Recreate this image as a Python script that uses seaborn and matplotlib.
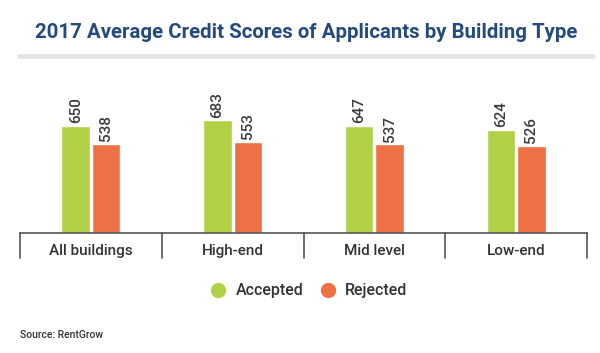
import pandas as pd
import matplotlib.pyplot as plt
import seaborn as sns
from matplotlib.lines import Line2D

# Datos
categorias = ['All buildings', 'High-end', 'Mid level', 'Low-end']
aceptados = [650, 683, 647, 624]
rechazados = [538, 553, 537, 526]
series = ['Accepted', 'Rejected']
colores = {'Accepted': '#b0d146', 'Rejected': '#ee7145'}

df = pd.DataFrame({
    'Tipo': categorias * 2,
    'Estado': ['Accepted'] * 4 + ['Rejected'] * 4,
    'Score': aceptados + rechazados,
})

sns.set_style('white')
plt.rcParams['font.family'] = ['Roboto', 'DejaVu Sans']

fig = plt.figure(figsize=(6, 3.53), dpi=100)
ax = fig.add_axes([20 / 600, 1 - 233 / 353, 567 / 600, 165 / 353])

sns.barplot(data=df, x='Tipo', y='Score', hue='Estado', palette=colores,
            width=0.43, gap=0.06, ax=ax, legend=False, saturation=1)

for cont in ax.containers:
    ax.bar_label(cont, rotation=90, padding=2, fontsize=11, fontweight='medium',
                 color='#3a3a3a')

ax.set_ylim(0, 1000)
ax.set_xlim(-0.5, len(categorias) - 0.5)
ax.set_xlabel('')
ax.set_ylabel('')
ax.set_yticks([])
ax.tick_params(axis='x', length=0, pad=8)
for lbl in ax.get_xticklabels():
    lbl.set_fontsize(11)
    lbl.set_fontweight('medium')
    lbl.set_color('#333333')
for s in ['top', 'right', 'left']:
    ax.spines[s].set_visible(False)
ax.spines['bottom'].set_color('#555555')
ax.spines['bottom'].set_linewidth(1.2)

# separadores verticales bajo el eje
trans = ax.get_xaxis_transform()
for i in range(len(categorias) + 1):
    ax.add_line(Line2D([i - 0.5, i - 0.5], [0, -25 / 165], transform=trans,
                       color='#555555', lw=1.2, clip_on=False))

# Titulo y linea gris
fig.text(0.51, 1 - 33 / 353, '2017 Average Credit Scores of Applicants by Building Type',
         ha='center', va='center', fontsize=14.7, fontweight='bold', color='#244a7e')
fig.add_artist(Line2D([19 / 600, 593 / 600], [1 - 56 / 353, 1 - 56 / 353],
                      color='#e4e4e4', lw=3.5))

# Leyenda
handles = [Line2D([], [], marker='o', linestyle='', markersize=10,
                  markerfacecolor=colores[s], markeredgecolor=colores[s], label=s)
           for s in series]
leg = fig.legend(handles=handles, loc='center', bbox_to_anchor=(0.508, 1 - 291 / 353),
                 ncol=2, frameon=False, fontsize=11.5, handletextpad=0.1,
                 columnspacing=0.5, labelcolor='#333333')
for t in leg.get_texts():
    t.set_fontweight('medium')

fig.text(20 / 600, 1 - 335 / 353, 'Source: RentGrow', ha='left', va='center',
         fontsize=7.5, fontweight='medium', color='#333333')

plt.savefig('out.png', dpi=100)
